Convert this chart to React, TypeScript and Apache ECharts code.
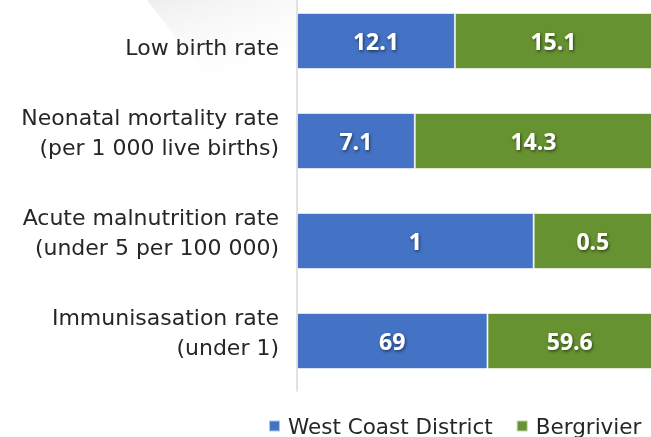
import React, { useEffect, useRef } from "react";
import * as echarts from "echarts";

const categories = [
  "Low birth rate",
  "Neonatal mortality rate\n(per 1 000 live births)",
  "Acute malnutrition rate\n(under 5 per 100 000)",
  "Immunisasation rate\n(under 1)",
];
const westCoast = [12.1, 7.1, 1, 69];
const bergrivier = [15.1, 14.3, 0.5, 59.6];
const seriesNames = ["West Coast District", "Bergrivier"];

export default function App() {
  const ref = useRef<HTMLDivElement>(null);
  useEffect(() => {
    if (!ref.current) return;
    const chart = echarts.init(ref.current, undefined, { renderer: "svg" });
    const totals = westCoast.map((v, i) => v + bergrivier[i]);
    const pct = (arr: number[]) =>
      arr.map((v, i) => ({ value: (v / totals[i]) * 100, raw: v }));
    const labelStyle = {
      show: true,
      position: "inside",
      color: "#ffffff",
      fontFamily: "Open Sans",
      fontWeight: "bold",
      fontSize: 23,
      textShadowColor: "rgba(0,0,0,0.55)",
      textShadowBlur: 3,
      textShadowOffsetX: 1,
      textShadowOffsetY: 1.5,
      formatter: (p: any) => String(p.data.raw),
    };
    chart.setOption({
      animation: false,
      graphic: [
        {
          type: "polygon",
          z: -10,
          shape: { points: [[147, 0], [296, 0], [296, 100], [225, 100]] },
          style: {
            fill: new echarts.graphic.LinearGradient(0, 0, 0.5, 1, [
              { offset: 0, color: "#eeeeee" },
              { offset: 1, color: "rgba(255,255,255,0)" },
            ]),
          },
        },
      ],
      grid: { left: 297, top: -9, width: 355, height: 400, outerBoundsMode: "none", containLabel: false },
      xAxis: { type: "value", min: 0, max: 100, show: false },
      yAxis: {
        type: "category",
        inverse: true,
        data: categories,
        axisLine: { lineStyle: { color: "#d9d9d9", width: 1.5 } },
        axisTick: { show: false },
        axisLabel: {
          margin: 18,
          align: "right",
          formatter: (value: string, idx: number) => {
            const lines = value.split("\n").map((l) => `{t|${l}}`);
            if (idx === 0) return `{s| }\n` + lines.join("\n");
            return lines.join("\n") + `\n{s2| }`;
          },
          rich: {
            t: { fontFamily: "DejaVu Sans", fontSize: 22, color: "#262626", lineHeight: 30 },
            s: { fontSize: 10, lineHeight: 13 },
            s2: { fontSize: 10, lineHeight: 17 },
          },
        },
      },
      legend: {
        left: 263,
        top: 410,
        width: 400,
        icon: "rect",
        itemWidth: 11,
        itemHeight: 11,
        itemGap: 23,
        data: seriesNames,
        textStyle: {
          fontFamily: "DejaVu Sans",
          fontSize: 21.5,
          color: "#262626",
          padding: [0, 0, 0, 3],
        },
      },
      series: [
        {
          name: seriesNames[0],
          type: "bar",
          stack: "total",
          barWidth: 56,
          data: pct(westCoast),
          itemStyle: { color: "#4472C4", borderColor: "rgba(255,255,255,0.6)", borderWidth: 1 },
          label: labelStyle,
        },
        {
          name: seriesNames[1],
          type: "bar",
          stack: "total",
          barWidth: 56,
          data: pct(bergrivier),
          itemStyle: { color: "#679231", borderColor: "rgba(255,255,255,0.6)", borderWidth: 1 },
          label: labelStyle,
        },
      ],
    });
    return () => chart.dispose();
  }, []);
  return <div ref={ref} style={{ width: 651, height: 437, position: "fixed", left: 0, top: 0 }} />;
}
